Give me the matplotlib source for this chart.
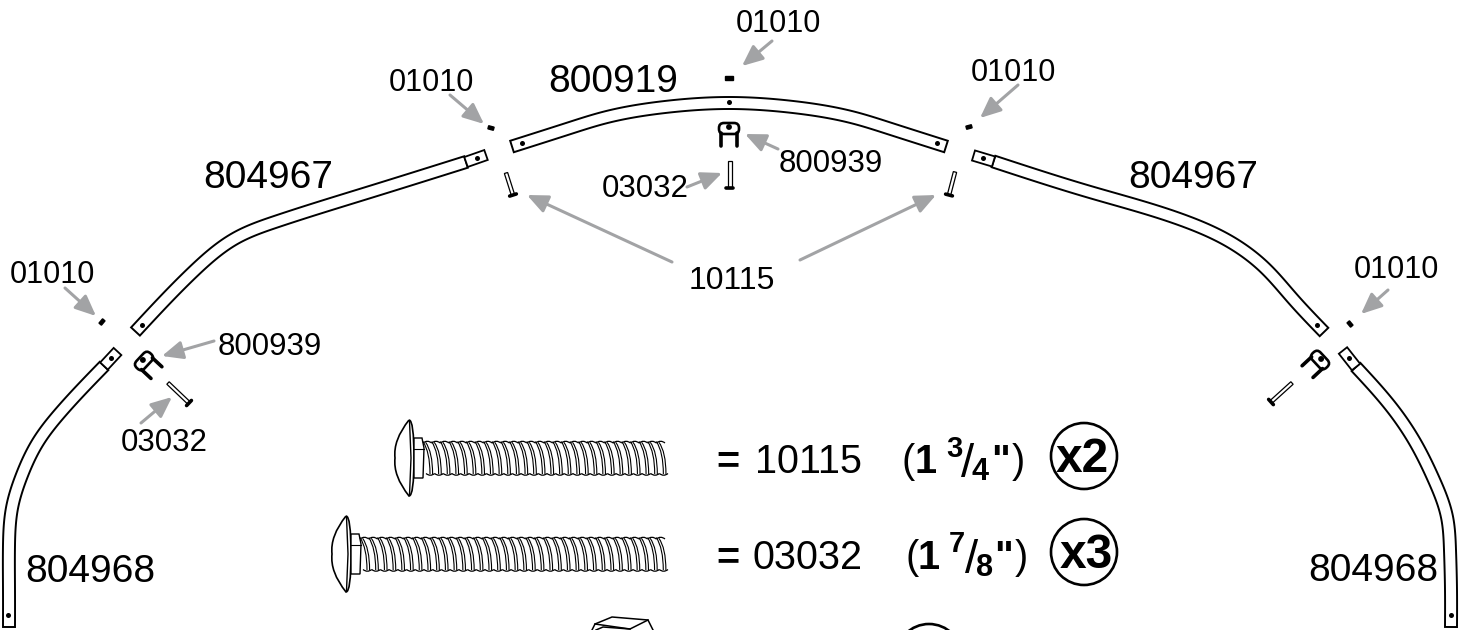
import numpy as np
import matplotlib
matplotlib.use("Agg")
import matplotlib.pyplot as plt
from matplotlib.patches import Circle, FancyBboxPatch, PathPatch, Polygon
from matplotlib.path import Path
from matplotlib.transforms import Affine2D

plt.rcParams['font.family'] = ['Liberation Sans', 'DejaVu Sans']

GRAY = '#a2a3a5'

# tube centre lines, in picture pixels
tube_lower_left = [(9, 627), (9, 590), (9, 545), (12, 508), (22, 475), (38, 442), (60, 413), (104, 366)]
tube_upper_left = [(135.5, 331.5), (165, 300), (195, 270), (236, 238), (275, 222), (370, 192), (466, 162)]
tube_top = [(512, 146.5), (570, 128), (603, 118), (665, 107), (729, 103),
            (793, 107), (855, 118), (888, 128), (946, 146.5)]
tube_upper_right = [(993.5, 161.5), (1090, 192), (1190, 223), (1227, 240), (1265, 268), (1293, 299), (1324, 332)]
tube_lower_right = [(1356, 367), (1392, 408), (1415, 442), (1434, 480), (1447, 517), (1450, 550), (1451, 590), (1451, 627)]
tube_paths = [tube_lower_left, tube_upper_left, tube_top, tube_upper_right, tube_lower_right]

# narrowed tube ends: the two points on the tube axis
crimp_ends = [((104, 366), (117.5, 351.5)), ((466, 162), (486, 155)),
              ((993.5, 161.5), (973.5, 155.5)), ((1356, 367), (1343, 350.5))]

hole_x = [8, 111, 142, 477, 522, 729, 937, 983, 1317, 1349, 1451]
hole_y = [615, 358, 325, 158, 143, 102, 143, 158, 325, 358, 615]

# small spacers: centre x, centre y, angle
spacer_x = [102, 491, 729, 969, 1350]
spacer_y = [322, 128, 78, 127, 324]
spacer_angle = [-50, 15, 0, -15, 50]

# clips: oval centre and rotation
clip_x = [729, 144, 1320]
clip_y = [128.5, 361, 360]
clip_angle = [0, -47, 47]

# pins: tip and head
pin_tips = [(506, 173), (730, 161), (955, 172), (168, 383), (1292, 383)]
pin_heads = [(513, 195), (730, 188), (949, 195), (189, 403), (1271, 402)]

# leader arrows: tail and tip
arrow_tails = [(772, 41), (450, 95), (1018, 85), (65, 288), (1388, 290), (214, 341),
               (141, 423), (778, 149), (687, 187), (672, 262), (800, 260)]
arrow_tips = [(742, 66), (484, 124), (980, 118), (96, 316), (1361, 314), (162, 356),
              (172, 397), (745, 134), (722, 173), (527, 195), (936, 195)]

# part labels: text, x, baseline y, size
label_text = ['01010', '01010', '01010', '01010', '01010', '800919', '804967', '804967',
              '804968', '804968', '800939', '800939', '03032', '03032', '10115']
label_x = [736, 389, 971, 10, 1354, 548, 203, 1128, 25, 1308, 779, 218, 602, 121, 689]
label_y = [32, 91, 81, 283, 278, 92, 188, 188, 582, 581, 172, 355, 197, 451, 289]
label_size = [22, 22, 22, 22, 22, 28, 28, 28, 28, 28, 22.5, 22.5, 22.5, 22.5, 23]

# legend bolts
bolt_head_left = [395, 332]
bolt_head_flat = [414, 351]
bolt_mid_y = [458, 554]
bolt_thread_end = [668, 668]
bolt_threads = [28, 35]


def smooth(points, steps=16):
    # natural cubic spline over chord length
    pts = np.array(points, dtype=float)
    h = np.hypot(*np.diff(pts, axis=0).T)
    n = len(pts)
    A = np.zeros((n, n))
    rhs = np.zeros((n, 2))
    A[0, 0] = A[-1, -1] = 1
    for i in range(1, n - 1):
        A[i, i - 1] = h[i - 1]
        A[i, i] = 2 * (h[i - 1] + h[i])
        A[i, i + 1] = h[i]
        rhs[i] = 6 * ((pts[i + 1] - pts[i]) / h[i] - (pts[i] - pts[i - 1]) / h[i - 1])
    m = np.linalg.solve(A, rhs)
    out = []
    for i in range(n - 1):
        for t in np.linspace(0, 1, steps, endpoint=False):
            out.append((1 - t) * pts[i] + t * pts[i + 1]
                       + h[i] ** 2 / 6 * (((1 - t) ** 3 - (1 - t)) * m[i] + (t ** 3 - t) * m[i + 1]))
    out.append(pts[-1])
    return np.array(out)


def draw_tube(ax, points, width=12.0):
    line = smooth(points)
    d = np.gradient(line, axis=0)
    n = np.column_stack([-d[:, 1], d[:, 0]]) / np.hypot(d[:, 0], d[:, 1])[:, None]
    a = line + n * width / 2
    b = line - n * width / 2
    ax.add_patch(Polygon(np.vstack([a, b[::-1]]), closed=True, fc='white', ec='black', lw=1.4))


def draw_crimp(ax, start, end, width=10.5):
    s = np.array(start, dtype=float)
    e = np.array(end, dtype=float)
    d = (e - s) / np.hypot(*(e - s))
    n = np.array([-d[1], d[0]]) * width / 2
    ax.add_patch(Polygon([s + n, e + n, e - n, s - n], closed=True, fc='white', ec='black',
                         lw=1.3, zorder=3))


def draw_clip(ax, x, y, angle):
    tr = Affine2D().rotate_deg(angle).translate(x, y) + ax.transData
    oval = FancyBboxPatch((-7.5, -3), 15, 6, boxstyle='round,pad=2.5,rounding_size=5', fc='white',
                          ec='black', lw=1.9, transform=tr, zorder=4)
    ax.add_patch(oval)
    for lx in (-8, 8):
        ax.plot([lx, lx], [4, 17], color='black', lw=2.6, solid_capstyle='round', transform=tr, zorder=4)
    ax.add_patch(Circle((0, -1.5), 2.2, color='black', transform=tr, zorder=5))


def draw_pin(ax, tip, head):
    t = np.array(tip, dtype=float)
    h = np.array(head, dtype=float)
    d = (h - t) / np.hypot(*(h - t))
    n = np.array([-d[1], d[0]])
    ax.add_patch(Polygon([t + 1.7 * n, h + 1.7 * n, h - 1.7 * n, t - 1.7 * n], closed=True,
                         fc='white', ec='black', lw=0.9, zorder=4))
    ax.plot(*zip(h - 3.5 * n, h + 3.5 * n), color='black', lw=2.6, solid_capstyle='round', zorder=5)


def draw_spacer(ax, x, y, angle):
    tr = Affine2D().rotate_deg(angle).translate(x, y) + ax.transData
    half = 4 if angle == 0 else 2.8
    ax.add_patch(Polygon([(-half, -1.6), (half, -1.6), (half, 1.6), (-half, 1.6)], closed=True,
                         color='black', transform=tr))


def draw_bolt(ax, left, flat, mid, end, count):
    # domed head
    verts = [(flat - 5, mid - 38), (left - 2, mid - 18), (left, mid), (left - 2, mid + 18), (flat - 5, mid + 38),
             (flat, mid + 38), (flat, mid), (flat, mid - 38), (flat - 5, mid - 38)]
    codes = [Path.MOVETO, Path.CURVE3, Path.CURVE3, Path.CURVE3, Path.CURVE3,
             Path.CURVE3, Path.CURVE3, Path.CURVE3, Path.CURVE3]
    ax.add_patch(PathPatch(Path(verts, codes), fc='white', ec='black', lw=1.2))
    ax.plot([flat - 4.5, flat - 3, flat - 4.5], [mid - 37, mid, mid + 37], color='black', lw=1.0)
    # square neck
    neck = flat + 9
    ax.add_patch(Polygon([(flat, mid - 20), (neck - 1, mid - 20), (neck + 1, mid - 10),
                          (neck, mid + 20), (flat, mid + 20)], closed=True, fc='white', ec='black', lw=1.0))
    ax.plot([flat, neck + 1], [mid - 9, mid - 9], color='black', lw=0.8)
    # threads
    top = mid - 16.5
    bot = mid + 17
    edges = np.linspace(neck, end - 3, count + 1)
    pitch = edges[1] - edges[0]
    for x in edges[:-1]:
        for off in (0.0, 2.6):
            path = Path([(x + off, top + off * 0.3), (x + off + 7, mid - 6), (x + off + 7, bot - 1)],
                        [Path.MOVETO, Path.CURVE3, Path.CURVE3])
            ax.add_patch(PathPatch(path, fc='none', ec='black', lw=0.8))
        ax.add_patch(PathPatch(Path([(x, top + 1.5), (x + pitch / 2, top - 2), (x + pitch, top + 1.5)],
                                    [Path.MOVETO, Path.CURVE3, Path.CURVE3]), fc='none', ec='black', lw=0.9))
        ax.add_patch(PathPatch(Path([(x + 3, bot - 1.5), (x + 3 + pitch / 2, bot + 2), (x + 3 + pitch, bot - 1.5)],
                                    [Path.MOVETO, Path.CURVE3, Path.CURVE3]), fc='none', ec='black', lw=0.9))


def main():
    fig = plt.figure(figsize=(14.69, 6.30), dpi=100)
    ax = fig.add_axes([0, 0, 1, 1])
    ax.set_xlim(0, 1469)
    ax.set_ylim(630, 0)
    ax.axis('off')

    for tube in tube_paths:
        draw_tube(ax, tube)
    for start, end in crimp_ends:
        draw_crimp(ax, start, end)
    ax.scatter(hole_x, hole_y, s=13, color='black', zorder=6, linewidths=0)

    for x, y, angle in zip(spacer_x, spacer_y, spacer_angle):
        draw_spacer(ax, x, y, angle)
    for x, y, angle in zip(clip_x, clip_y, clip_angle):
        draw_clip(ax, x, y, angle)
    for tip, head in zip(pin_tips, pin_heads):
        draw_pin(ax, tip, head)

    for tail, tip in zip(arrow_tails, arrow_tips):
        ax.annotate('', xy=tip, xytext=tail,
                    arrowprops=dict(arrowstyle='-|>,head_length=1.25,head_width=0.55', color=GRAY,
                                    lw=2.2, shrinkA=0, shrinkB=0))

    for txt, x, y, size in zip(label_text, label_x, label_y, label_size):
        ax.text(x, y, txt, fontsize=size, ha='left', va='baseline', color='black')

    for left, flat, mid, end, count in zip(bolt_head_left, bolt_head_flat, bolt_mid_y,
                                           bolt_thread_end, bolt_threads):
        draw_bolt(ax, left, flat, mid, end, count)

    # legend rows
    big = dict(fontsize=28.5, ha='left', va='baseline')
    ax.text(716, 473, '=', fontweight='bold', **big)
    ax.text(755, 473, '10115', **big)
    ax.text(902, 473, '(', **big)
    ax.text(915, 473, '1', fontweight='bold', **big)
    ax.text(946, 457, '3', fontsize=21, fontweight='bold', ha='left', va='baseline')
    ax.text(961, 477, '/', fontsize=34, ha='left', va='baseline')
    ax.text(972, 480, '4', fontsize=22, fontweight='bold', ha='left', va='baseline')
    ax.text(991, 473, '"', fontweight='bold', **big)
    ax.text(1012, 473, ')', **big)

    ax.text(716, 569, '=', fontweight='bold', **big)
    ax.text(753, 569, '03032', **big)
    ax.text(906, 569, '(', **big)
    ax.text(918, 569, '1', fontweight='bold', **big)
    ax.text(949, 552, '7', fontsize=21, fontweight='bold', ha='left', va='baseline')
    ax.text(965, 573, '/', fontsize=34, ha='left', va='baseline')
    ax.text(976, 576, '8', fontsize=22, fontweight='bold', ha='left', va='baseline')
    ax.text(994, 569, '"', fontweight='bold', **big)
    ax.text(1015, 569, ')', **big)

    ax.add_patch(Circle((1084, 456), 33, fc='none', ec='black', lw=1.9))
    ax.add_patch(Circle((1084, 552), 33, fc='none', ec='black', lw=1.9))
    ax.text(1056, 472, 'x2', fontsize=34.5, fontweight='bold', ha='left', va='baseline')
    ax.text(1060, 568, 'x3', fontsize=34.5, fontweight='bold', ha='left', va='baseline')

    # cut off nut and circle on the bottom edge
    ax.plot([592, 595, 612, 648, 653], [630, 624, 617, 620, 630], color='black', lw=1.1)
    ax.plot([595, 630, 648], [624, 629, 620], color='black', lw=1.1)
    ax.plot([596, 603, 630], [630, 627, 629], color='black', lw=1.1)
    ax.add_patch(Circle((929, 657), 33, fc='none', ec='black', lw=1.9))

    fig.savefig('out.png', dpi=100, facecolor='white')


if __name__ == '__main__':
    main()
